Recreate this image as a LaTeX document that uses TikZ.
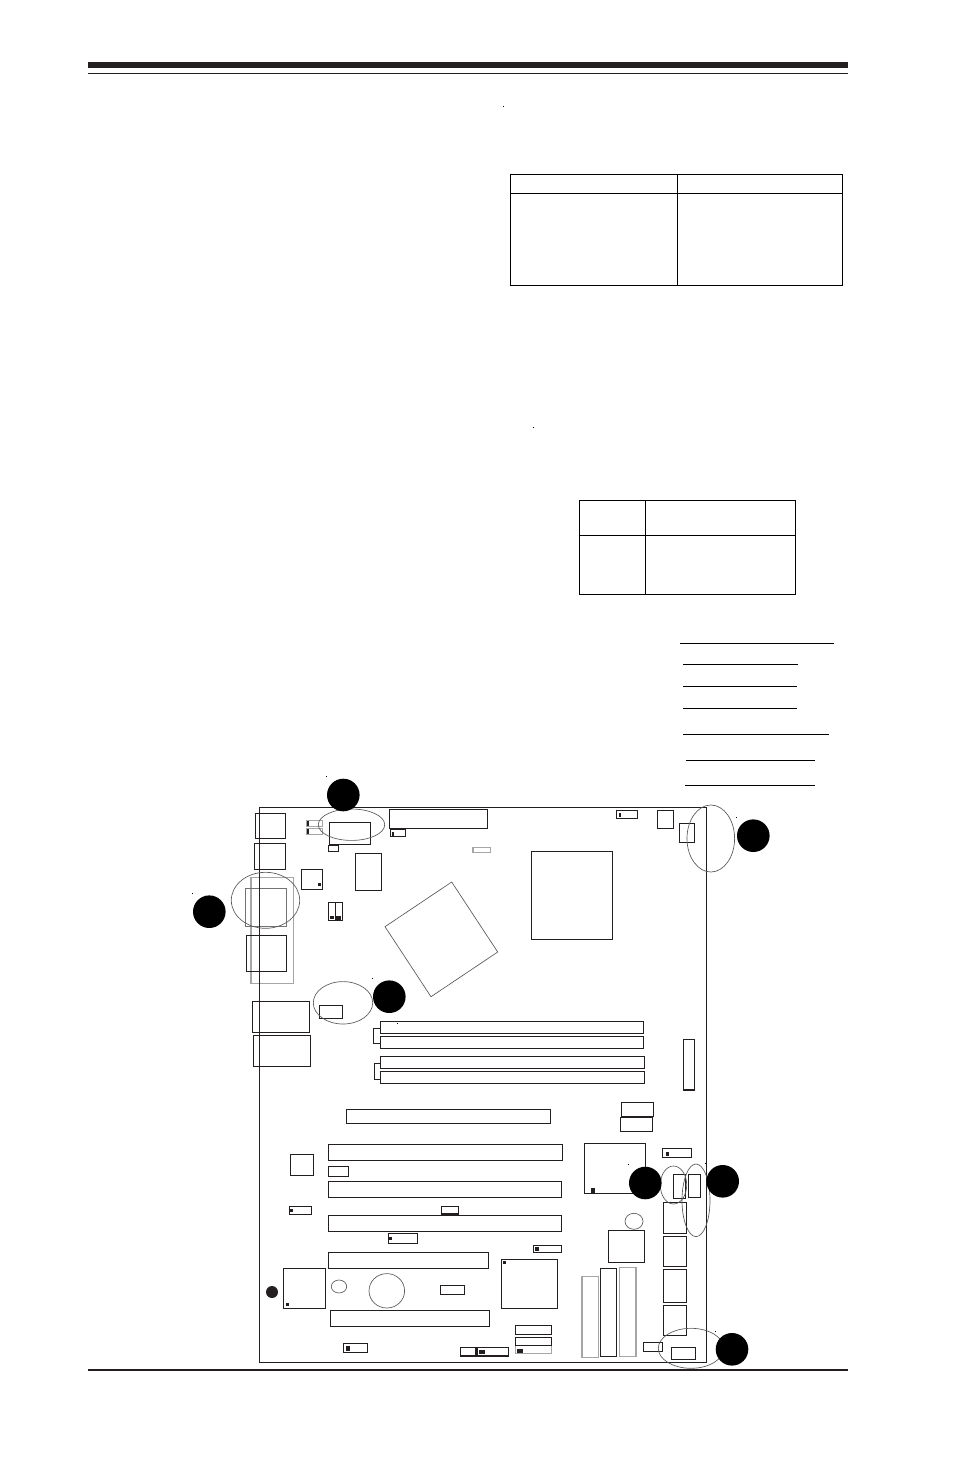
\documentclass[tikz,border=0pt]{standalone}
\definecolor{inkblack}{HTML}{231F20}
\tikzset{
  partbox/.style={draw=inkblack, line width=0.8pt},
  ghostbox/.style={draw=black!35, line width=0.8pt},
  ringline/.style={draw=black!65, line width=0.5pt},
  marker/.style={fill=black},
  pin/.style={fill=inkblack},
  tablerule/.style={draw=black, line width=0.9pt}
}
\begin{document}
\begin{tikzpicture}[x=0.75pt,y=-0.75pt]
\useasboundingbox (0,0) rectangle (953,1457);

\fill [inkblack] (88,62) rectangle (848,68);
\draw [inkblack, line width=0.8pt] (88,73.5) -- (848,73.5);
\draw [inkblack, line width=1.9pt] (88,1370) -- (848,1370);

\draw [tablerule] (510.5,174.5) rectangle (842.5,285.5);
\draw [tablerule] (510.5,193.5) -- (842.5,193.5);
\draw [tablerule] (677.5,174.5) -- (677.5,285.5);

\draw [tablerule] (579.5,500.5) rectangle (795.5,594.5);
\draw [tablerule] (579.5,535.5) -- (795.5,535.5);
\draw [tablerule] (645.5,500.5) -- (645.5,594.5);

\draw [tablerule] (680,643.5) -- (834,643.5);
\draw [tablerule] (683,664.5) -- (798,664.5);
\draw [tablerule] (683,686.5) -- (797,686.5);
\draw [tablerule] (683,708.5) -- (797,708.5);
\draw [tablerule] (683,734.5) -- (829,734.5);
\draw [tablerule] (686,760.5) -- (815,760.5);
\draw [tablerule] (685,785.5) -- (815,785.5);

\fill [black] (503,105.6) rectangle (504,106.6);
\fill [black] (533,426.6) rectangle (534,427.6);
\fill [black] (326,776) rectangle (327,777);
\fill [black] (192.3,893) rectangle (193.3,894);
\fill [black] (372,978) rectangle (373,979);
\fill [black] (397.3,1023) rectangle (398.3,1024);
\fill [black] (736,817) rectangle (737,818);
\fill [black] (628,1164) rectangle (629,1165);
\fill [black] (705,1163) rectangle (706,1164);
\fill [black] (715,1331) rectangle (716,1332);

\draw [ghostbox] (251,877.3) rectangle (293.7,983.7);
\draw [draw=black!55, line width=0.7pt] (245.7,888.3) rectangle (286.7,926.7);
\draw [ghostbox] (306.3,820.3) rectangle (322.7,826.7);
\draw [ghostbox] (306.3,828.3) rectangle (322.7,834.7);
\draw [ghostbox] (473,847.3) rectangle (490.7,852.7);
\draw [ghostbox] (582,1276.3) rectangle (598.3,1357.7);
\draw [ghostbox] (619.7,1267.3) rectangle (636,1356.7);
\draw [ghostbox] (515.3,1345.7) rectangle (551.7,1353.7);

\draw [partbox] (259.5,807.5) rectangle (706.5,1362.5);

\draw [partbox] (255.3,813.3) rectangle (285.7,838.7);
\draw [partbox] (254.3,843.3) rectangle (285.7,869.3);
\draw [partbox] (246.3,935.3) rectangle (286.7,971.7);
\draw [partbox] (252.3,1001.3) rectangle (309.7,1032.7);
\draw [partbox] (253.3,1035.3) rectangle (310.7,1066.7);

\draw [partbox] (329.3,822.3) rectangle (370.7,844.3);
\draw [partbox] (328.3,845.3) rectangle (338.7,851.3);
\draw [partbox] (389.3,809.3) rectangle (487.3,828.7);
\draw [partbox] (390.3,829) rectangle (405.7,836.7);
\draw [partbox] (355.3,853.3) rectangle (381.7,890.3);
\draw [partbox] (301.3,869.3) rectangle (322.7,889.7);
\draw [partbox] (328.3,902.3) rectangle (342.7,920.7);
\draw [partbox] (335.3,902.3) -- (335.3,920.7);
\draw [partbox] (319.3,1005.3) rectangle (342.7,1018.7);

\draw [partbox] (616.3,810.3) rectangle (637.7,818.7);
\draw [partbox] (657.3,810.3) rectangle (673.7,828.7);
\draw [partbox] (679.3,823.3) rectangle (694.7,842.7);
\draw [partbox] (531.3,851.3) rectangle (612.7,939.7);
\draw [ringline] (451.7,882) -- (497.7,952) -- (431,996.7) -- (385,926.7) -- cycle;

\draw [partbox] (380.3,1021.3) rectangle (643.7,1033.3);
\draw [partbox] (380.3,1036.3) rectangle (643.7,1048.3);
\draw [partbox] (380.3,1056.3) rectangle (644.7,1068.3);
\draw [partbox] (380.3,1071.3) rectangle (644.7,1083.3);
\draw [partbox] (380.3,1028.3) -- (373.3,1028.3) -- (373.3,1043.3) -- (380.3,1043.3);
\draw [partbox] (380.3,1063.3) -- (374.3,1063.3) -- (374.3,1079.3) -- (380.3,1079.3);
\draw [partbox] (683.3,1039.3) rectangle (694.7,1090);

\draw [partbox] (346.3,1109.3) rectangle (550.7,1123.7);
\draw [partbox] (328.3,1144.3) rectangle (562.7,1160.7);
\draw [partbox] (328.3,1166.3) rectangle (348.7,1176.7);
\draw [partbox] (328.3,1181.3) rectangle (561.7,1197.7);
\draw [partbox] (328.3,1215.3) rectangle (561.7,1231.7);
\draw [partbox] (328.3,1252.3) rectangle (488.7,1268.7);
\draw [partbox] (330.3,1310.3) rectangle (489.7,1326.7);
\draw [partbox] (290.3,1154.3) rectangle (313.7,1175.7);
\draw [partbox] (289.3,1206.3) rectangle (311.7,1214.7);
\draw [partbox] (441.3,1206.3) rectangle (458.7,1214);
\draw [partbox] (388.3,1233.3) rectangle (417.7,1243.7);
\draw [partbox] (283.3,1268.3) rectangle (325.7,1308.7);
\draw [partbox] (440.3,1285.3) rectangle (464.7,1294.7);
\draw [partbox] (343.3,1343.3) rectangle (367.7,1352.7);
\draw [partbox] (460.3,1347.3) rectangle (476,1356);
\draw [partbox] (477.3,1347.3) rectangle (508.7,1356);

\draw [partbox] (501.3,1259.3) rectangle (557.7,1308.7);
\draw [partbox] (533.3,1245.3) rectangle (561.7,1252.7);
\draw [partbox] (515.3,1325.3) rectangle (551.7,1334.7);
\draw [partbox] (515.3,1337.3) rectangle (551.7,1345.7);
\draw [partbox] (600.3,1268.3) rectangle (616.7,1356.7);
\draw [partbox] (584.3,1143.3) rectangle (645.7,1193.7);
\draw [partbox] (621.3,1102.3) rectangle (653.7,1116.7);
\draw [partbox] (620.3,1117.3) rectangle (652.7,1131.7);
\draw [partbox] (662.3,1148.3) rectangle (691.7,1157.7);
\draw [partbox] (673.3,1174.3) rectangle (685.7,1198.7);
\draw [partbox] (688.3,1174.3) rectangle (700.7,1197.7);
\draw [partbox] (663.3,1202.3) rectangle (686.7,1233.7);
\draw [partbox] (663.3,1236.3) rectangle (686.7,1266.7);
\draw [partbox] (663.3,1269.3) rectangle (686.7,1302.7);
\draw [partbox] (663.3,1305.3) rectangle (686.7,1335.7);
\draw [partbox] (608.3,1230.3) rectangle (644.7,1262.7);
\draw [partbox] (643.3,1342.3) rectangle (662.7,1351.7);
\draw [partbox] (671.3,1347.3) rectangle (695.7,1359.7);

\fill [pin] (306.7,820.6) rectangle (308.7,826.4);
\fill [pin] (306.7,828.6) rectangle (308.7,834.4);
\fill [pin] (392,832) rectangle (394,836.7);
\fill [pin] (318,883) rectangle (321,886);
\fill [pin] (330,916) rectangle (334,919);
\fill [pin] (335.3,916) rectangle (341,920.7);
\fill [pin] (619,813) rectangle (621,817);
\fill [pin] (290,1209) rectangle (293,1212);
\fill [pin] (389,1237) rectangle (392,1240);
\fill [pin] (286,1303) rectangle (289,1306);
\fill [pin] (346,1346) rectangle (350,1351);
\fill [pin] (479,1350.3) rectangle (485,1354);
\fill [pin] (503,1261) rectangle (506,1264);
\fill [pin] (535,1247) rectangle (539,1251);
\fill [pin] (517,1349) rectangle (523,1353.3);
\fill [pin] (591,1188) rectangle (595,1193.7);
\fill [pin] (666,1152) rectangle (669,1156);

\draw [ringline] (339,1286.5) ellipse (7.7 and 6.5);
\draw [ringline] (386.8,1290.8) ellipse (17.8 and 17.2);
\draw [ringline] (634,1221.3) ellipse (9 and 8);

\draw [ringline] (265.5,900.3) ellipse (34.2 and 28);
\draw [ringline] (351.5,824.7) ellipse (33.2 and 15.7);
\draw [ringline] (343,1002.8) ellipse (29.7 and 21.2);
\draw [ringline] (710.8,838.5) ellipse (23.8 and 33.5);
\draw [ringline] (673.5,1185) ellipse (13.2 and 19);
\draw [ringline] (696,1200.3) ellipse (14 and 36.3);
\draw [ringline] (691,1348.3) ellipse (32.7 and 20);

\fill [marker] (343.3,795) circle (16.3);
\fill [marker] (209.3,911.7) circle (16.3);
\fill [marker] (389.3,996.7) circle (16.3);
\fill [marker] (753.3,835.7) circle (16.3);
\fill [marker] (645.3,1183) circle (16.3);
\fill [marker] (722.7,1181.3) circle (16.3);
\fill [marker] (732,1349.3) circle (16.3);
\fill [inkblack] (272,1292) circle (6);

\end{tikzpicture}
\end{document}
